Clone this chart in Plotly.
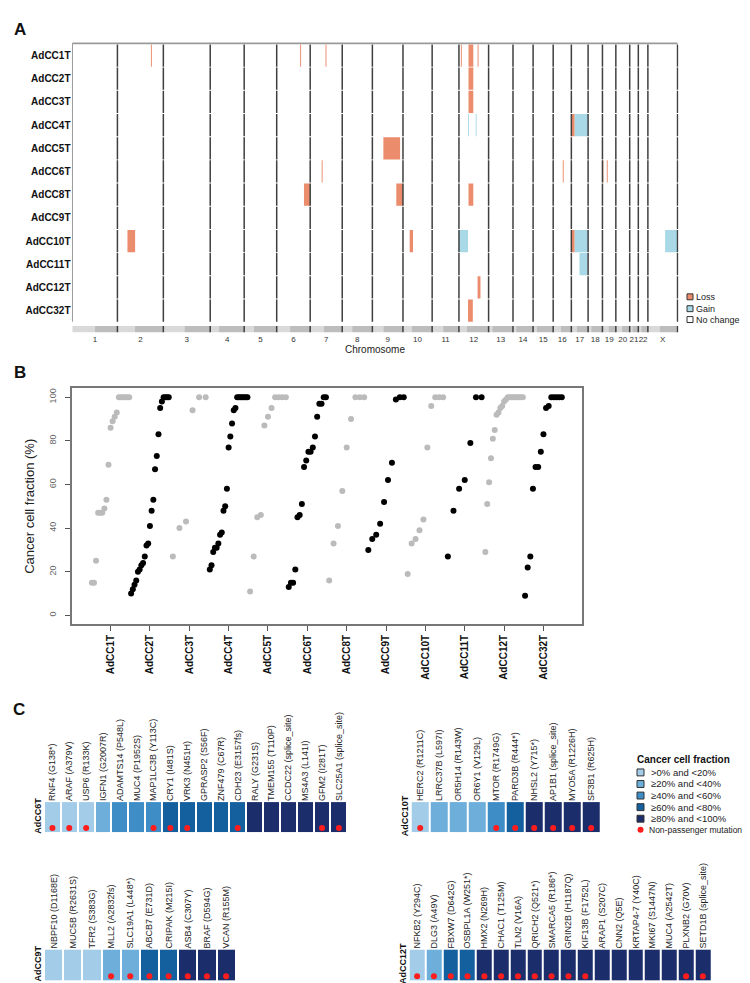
import plotly.graph_objects as go

W, H = 750, 983
FONT = "Liberation Sans, Arial, Helvetica, sans-serif"


def fx(p):
    return p / W


def fy(p):
    return 1 - p / H


# ---------------------------------------------------------------- Panel A data
samples = ["AdCC1T", "AdCC2T", "AdCC3T", "AdCC4T", "AdCC5T", "AdCC6T",
           "AdCC8T", "AdCC9T", "AdCC10T", "AdCC11T", "AdCC12T", "AdCC32T"]
chromosomes = ["1", "2", "3", "4", "5", "6", "7", "8", "9", "10", "11", "12",
               "13", "14", "15", "16", "17", "18", "19", "20", "21", "22", "X"]
# relative display length of each chromosome
chrom_len = [94, 96, 98, 71, 68, 70, 67, 63, 64, 61, 56, 62,
             51, 42, 42, 38, 35, 30, 28, 29, 18, 20, 62]
centromere_frac = [0.50, 0.38, 0.45, 0.26, 0.30, 0.40, 0.42, 0.33, 0.36, 0.30, 0.41, 0.27,
                   0.15, 0.16, 0.18, 0.42, 0.32, 0.22, 0.45, 0.45, 0.30, 0.30, 0.40]

cnv_sample = ["AdCC1T", "AdCC1T", "AdCC1T", "AdCC1T", "AdCC1T", "AdCC1T",
              "AdCC2T", "AdCC3T",
              "AdCC4T", "AdCC4T", "AdCC4T", "AdCC4T",
              "AdCC5T",
              "AdCC6T", "AdCC6T", "AdCC6T", "AdCC6T",
              "AdCC8T", "AdCC8T", "AdCC8T",
              "AdCC10T", "AdCC10T", "AdCC10T", "AdCC10T", "AdCC10T", "AdCC10T",
              "AdCC11T", "AdCC12T", "AdCC32T"]
cnv_chrom = ["2", "6", "7", "12", "12", "12",
             "12", "12",
             "12", "12", "17", "17",
             "9",
             "7", "16", "19", "19",
             "6", "9", "12",
             "2", "10", "12", "17", "17", "X",
             "17", "12", "12"]
cnv_start = [70, 49, 32, 4, 20, 39,
             20, 20,
             19, 35, 0, 7,
             23,
             24, 20, 0, 9,
             57, 50, 20,
             21, 14, 0, 0, 7, 36,
             17, 39, 19]
cnv_end = [72, 51, 34, 6, 30, 41,
           30, 30,
           21, 37, 7, 35,
           58,
           26, 22, 2, 11,
           70, 64, 30,
           37, 21, 19, 7, 35, 62,
           34, 45, 29]
cnv_state = ["Loss", "Loss", "Loss", "Loss", "Loss", "Loss",
             "Loss", "Loss",
             "Gain", "Gain", "Loss", "Gain",
             "Loss",
             "Loss", "Loss", "Loss", "Loss",
             "Loss", "Loss", "Loss",
             "Loss", "Loss", "Gain", "Loss", "Gain", "Gain",
             "Gain", "Loss", "Loss"]
state_colors = {"Loss": "#EB8C6D", "Gain": "#A9D8E7", "No change": "#FFFFFF"}

# ---------------------------------------------------------------- Panel B data
ccf_samples = samples
ccf_AdCC1T = [15, 15, 25, 47, 47, 47, 49, 53, 69, 86, 89, 91, 93, 100, 100, 100, 100, 100, 100]
ccf_AdCC2T = [10, 12, 14, 16, 20, 21, 23, 24, 27, 32, 33, 41, 48, 53, 67, 73, 83, 95, 98,
              100, 100, 100, 100]
ccf_AdCC3T = [27, 40, 43, 94, 100, 100]
ccf_AdCC4T = [21, 23, 29, 31, 31, 33, 37, 38, 48, 50, 58, 77, 82, 88, 94, 95,
              100, 100, 100, 100, 100, 100, 100]
ccf_AdCC5T = [11, 27, 45, 46, 87, 91, 95, 100, 100, 100, 100]
ccf_AdCC6T = [13, 15, 15, 21, 45, 46, 51, 68, 71, 75, 75, 77, 82, 91, 97, 97, 100, 100]
ccf_AdCC8T = [16, 33, 41, 57, 77, 90, 100, 100, 100]
ccf_AdCC9T = [30, 35, 37, 42, 52, 62, 70, 99, 100, 100]
ccf_AdCC10T = [19, 33, 35, 39, 44, 77, 96, 100, 100, 100]
ccf_AdCC11T = [27, 48, 58, 62, 79, 100, 100]
ccf_AdCC12T = [29, 51, 61, 72, 81, 85, 92, 93, 95, 96, 98, 99,
               100, 100, 100, 100, 100, 100, 100, 100, 100]
ccf_AdCC32T = [9, 22, 27, 58, 68, 68, 75, 83, 95, 96, 100, 100, 100, 100, 100]
ccf_values = [ccf_AdCC1T, ccf_AdCC2T, ccf_AdCC3T, ccf_AdCC4T, ccf_AdCC5T, ccf_AdCC6T,
              ccf_AdCC8T, ccf_AdCC9T, ccf_AdCC10T, ccf_AdCC11T, ccf_AdCC12T, ccf_AdCC32T]
ccf_yticks = [0, 20, 40, 60, 80, 100]

# ---------------------------------------------------------------- Panel C data
shade_colors = ["#A3CCE8", "#6DAEDB", "#3F8DC7", "#14609F", "#1B2D6B"]
shade_labels = [">0% and <20%", "\u226520% and <40%", "\u226540% and <60%",
                "\u226560% and <80%", "\u226580% and <100%"]

genes_AdCC6T = ["RNF4 (G138*)", "ARAF (A379V)", "USP6 (R133K)", "IGFN1 (G2007R)",
                "ADAMTS14 (P548L)", "MUC4 (P1952S)", "MAP1LC3B (Y113C)", "CRY1 (I481S)",
                "VRK3 (N451H)", "GPRASP2 (S56F)", "ZNF479 (C67R)", "CDH23 (E3157fs)",
                "RALY (G231S)", "TMEM155 (T110P)", "CCDC22 (splice_site)", "MS4A3 (L141I)",
                "GFM2 (I281T)", "SLC25A1 (splice_site)"]
shade_AdCC6T = [0, 0, 0, 1, 2, 2, 2, 3, 3, 3, 3, 3, 4, 4, 4, 4, 4, 4]
driver_AdCC6T = [1, 1, 1, 0, 0, 0, 1, 1, 1, 0, 0, 1, 0, 0, 0, 0, 1, 1]

genes_AdCC10T = ["HERC2 (R1211C)", "LRRC37B (L597I)", "OR5H14 (R143W)", "OR6Y1 (V129L)",
                 "MTOR (R1749G)", "PARD3B (R444*)", "NHSL2 (Y715*)", "AP1B1 (splice_site)",
                 "MYO5A (R1226H)", "SF3B1 (R625H)"]
shade_AdCC10T = [0, 1, 1, 1, 2, 3, 4, 4, 4, 4]
driver_AdCC10T = [1, 0, 0, 0, 1, 1, 1, 1, 1, 1]

genes_AdCC9T = ["NBPF10 (D1168E)", "MUC5B (R2631S)", "TFR2 (S383G)", "MLL2 (A2832fs)",
                "SLC19A1 (L448*)", "ABCB7 (E731D)", "CRIPAK (M215I)", "ASB4 (C307Y)",
                "BRAF (D594G)", "VCAN (R155M)"]
shade_AdCC9T = [0, 0, 0, 1, 1, 3, 3, 4, 4, 4]
driver_AdCC9T = [0, 0, 0, 1, 1, 1, 1, 1, 1, 1]

genes_AdCC12T = ["NFKB2 (Y294C)", "DLG3 (A49V)", "FBXW7 (D642G)", "OSBPL1A (W251*)",
                 "HMX2 (N269H)", "CHAC1 (T125M)", "TLN2 (V16A)", "QRICH2 (Q521*)",
                 "SMARCA5 (R186*)", "GRIN2B (H1187Q)", "KIF13B (F1752L)", "ARAP1 (S207C)",
                 "CNN2 (Q5E)", "KRTAP4-7 (Y40C)", "MKI67 (S1447N)", "MUC4 (A2542T)",
                 "PLXNB2 (G70V)", "SETD1B (splice_site)"]
shade_AdCC12T = [0, 1, 3, 3, 4, 4, 4, 4, 4, 4, 4, 4, 4, 4, 4, 4, 4, 4]
driver_AdCC12T = [1, 1, 1, 1, 1, 1, 1, 1, 1, 1, 1, 0, 0, 0, 0, 0, 1, 1]

# ============================================================ figure
fig = go.Figure()
shapes = []
annotations = []

# ---------------------------------------------------------------- Panel A
offsets = [0]
for L in chrom_len:
    offsets.append(offsets[-1] + L)
total = offsets[-1]
chrom_off = dict(zip(chromosomes, offsets[:-1]))
row_of = {s: i for i, s in enumerate(samples)}

A_row0_px, A_pitch, A_top_px, A_bot_px = 41.0, 23.45, 27.9, 322.0
A_half = 0.48
bar_lo, bar_hi = 11.66, 11.93
top_line_y = (A_top_px + 0.6 - A_row0_px) / A_pitch

for s, c, a, b, st in zip(cnv_sample, cnv_chrom, cnv_start, cnv_end, cnv_state):
    r = row_of[s]
    shapes.append(dict(type="rect", xref="x", yref="y",
                       x0=chrom_off[c] + a, x1=chrom_off[c] + b,
                       y0=r - A_half, y1=r + A_half,
                       fillcolor=state_colors[st], line=dict(width=0), layer="below"))

# chromosome ideogram bar
for c, L, f in zip(chromosomes, chrom_len, centromere_frac):
    o = chrom_off[c]
    shapes.append(dict(type="rect", xref="x", yref="y", x0=o, x1=o + L * f,
                       y0=bar_lo, y1=bar_hi, fillcolor="#D9D9D9", line=dict(width=0),
                       layer="below"))
    shapes.append(dict(type="rect", xref="x", yref="y", x0=o + L * f, x1=o + L,
                       y0=bar_lo, y1=bar_hi, fillcolor="#BDBDBD", line=dict(width=0),
                       layer="below"))

# chromosome boundaries (drawn per row)
bx, by = [], []
for bnd in offsets[1:]:
    for r in range(len(samples)):
        bx += [bnd, bnd, None]
        by += [r - A_half, r + A_half, None]
    bx += [bnd, bnd, None]
    by += [bar_lo, bar_hi, None]
fig.add_trace(go.Scatter(x=bx, y=by, mode="lines", line=dict(color="#3F3F3F", width=1.5),
                         hoverinfo="skip", xaxis="x", yaxis="y"))
fig.add_trace(go.Scatter(x=[0, 0], y=[top_line_y, len(samples) - 1 + A_half], mode="lines",
                         line=dict(color="#9A9A9A", width=1), hoverinfo="skip",
                         xaxis="x", yaxis="y"))
fig.add_trace(go.Scatter(x=[0, total], y=[top_line_y, top_line_y], mode="lines",
                         line=dict(color="#9A9A9A", width=2.2), hoverinfo="skip",
                         xaxis="x", yaxis="y"))

chrom_centers = [o + L / 2 for o, L in zip(offsets[:-1], chrom_len)]

# ---------------------------------------------------------------- Panel B
B_colors = ["#BBBBBB", "#000000"]
for i, (s, vals) in enumerate(zip(ccf_samples, ccf_values)):
    n = len(vals)
    xs = [i + 1 - 0.5 + (j + 0.5) / n for j in range(n)]
    fig.add_trace(go.Scatter(x=xs, y=vals, mode="markers",
                             marker=dict(color=B_colors[i % 2], size=6, line=dict(width=0)),
                             hoverinfo="skip", xaxis="x2", yaxis="y2"))

# ---------------------------------------------------------------- Panel C
cscale = []
for k, col in enumerate(shade_colors):
    cscale += [[k / 5, col], [(k + 1) / 5, col]]

heat_blocks = [
    ("AdCC6T", genes_AdCC6T, shade_AdCC6T, driver_AdCC6T, "x3", "y3"),
    ("AdCC10T", genes_AdCC10T, shade_AdCC10T, driver_AdCC10T, "x4", "y4"),
    ("AdCC9T", genes_AdCC9T, shade_AdCC9T, driver_AdCC9T, "x5", "y5"),
    ("AdCC12T", genes_AdCC12T, shade_AdCC12T, driver_AdCC12T, "x6", "y6"),
]
for name, genes, shade, drv, xa, ya in heat_blocks:
    n = len(genes)
    fig.add_trace(go.Heatmap(z=[shade], x=list(range(n)), y=[0], zmin=-0.5, zmax=4.5,
                             colorscale=cscale, showscale=False, xgap=2, ygap=0,
                             hoverinfo="skip", xaxis=xa, yaxis=ya))
    dx = [j for j in range(n) if drv[j]]
    fig.add_trace(go.Scatter(x=dx, y=[-0.355] * len(dx), mode="markers",
                             marker=dict(color="#FF1C1C", size=6, line=dict(width=0)),
                             hoverinfo="skip", xaxis=xa, yaxis=ya))

# ============================================================ layout
common = dict(showgrid=False, zeroline=False)

layout = dict(
    width=W, height=H, margin=dict(l=0, r=0, t=0, b=0),
    paper_bgcolor="white", plot_bgcolor="white", showlegend=False,
    font=dict(family=FONT, color="#222222"),
)

# Panel A axes
layout["xaxis"] = dict(domain=[fx(63.5), fx(670.5)], range=[-2, total + 2], anchor="y",
                       tickmode="array", tickvals=chrom_centers, ticktext=chromosomes,
                       ticks="", tickangle=0, tickfont=dict(size=8, color="#333333"),
                       showline=False,
                       title=dict(text="Chromosome", font=dict(size=10, color="#222222"),
                                  standoff=1),
                       fixedrange=True, **common)
layout["yaxis"] = dict(domain=[fy(A_bot_px), fy(A_top_px)],
                       range=[(A_bot_px - A_row0_px) / A_pitch, (A_top_px - A_row0_px) / A_pitch],
                       anchor="x", tickmode="array", tickvals=list(range(len(samples))),
                       ticktext=["<b>%s</b>" % s for s in samples], ticks="",
                       tickfont=dict(size=10, color="#111111"), showline=False,
                       fixedrange=True, **common)

# Panel B axes
layout["xaxis2"] = dict(domain=[fx(64), fx(574)], range=[0.02, 12.98], anchor="y2",
                        tickmode="array", tickvals=list(range(1, 13)),
                        ticktext=["<b>%s</b>" % s for s in ccf_samples], tickangle=-90,
                        ticks="outside", ticklen=5, tickcolor="#555555", tickwidth=1,
                        tickfont=dict(size=10, color="#111111"),
                        showline=True, mirror=True, linecolor="#777777", linewidth=1.5,
                        **common)
layout["yaxis2"] = dict(domain=[fy(616), fy(377.7)], range=[-4, 104], anchor="x2",
                        tickmode="array", tickvals=ccf_yticks,
                        ticktext=[str(v) for v in ccf_yticks], tickangle=-90,
                        ticks="outside", ticklen=5, tickcolor="#555555", tickwidth=1,
                        ticklabelstandoff=6,
                        tickfont=dict(size=9, color="#666666"),
                        showline=True, mirror=True, linecolor="#777777", linewidth=1.5,
                        title=dict(text="Cancer cell fraction (%)",
                                   font=dict(size=13, color="#222222"), standoff=10),
                        **common)

# Panel C axes
C_dom = {
    "x3": (36, 339.3), "y3": (796, 826.7),
    "x4": (402.7, 592.7), "y4": (796, 826.7),
    "x5": (36, 227.7), "y5": (945, 976.7),
    "x6": (400.7, 703.3), "y6": (945, 976.7),
}
for name, genes, shade, drv, xa, ya in heat_blocks:
    xk = "xaxis" + xa[1:]
    yk = "yaxis" + ya[1:]
    x0, x1 = C_dom[xa]
    y0, y1 = C_dom[ya]
    layout[xk] = dict(domain=[fx(x0), fx(x1)], range=[-0.5, len(genes) - 0.5], anchor=ya,
                      side="top", tickmode="array", tickvals=list(range(len(genes))),
                      ticktext=genes, tickangle=-90, ticks="",
                      tickfont=dict(size=9, color="#222222"), showline=False, **common)
    layout[yk] = dict(domain=[fy(y1), fy(y0)], range=[-0.5, 0.5], anchor=xa,
                      tickmode="array", tickvals=[0], ticktext=["<b>%s</b>" % name],
                      tickangle=-90, ticks="", tickfont=dict(size=9, color="#111111"),
                      showline=False, **common)

# panel letters
for letter, (px_, py_) in zip(["A", "B", "C"], [(12, 15), (12, 362), (11, 702)]):
    annotations.append(dict(text="<b>%s</b>" % letter, x=fx(px_), y=fy(py_), xref="paper",
                            yref="paper", showarrow=False, xanchor="center", yanchor="middle",
                            font=dict(size=17, color="#111111")))

# Panel A legend
for k, (lab, ypx) in enumerate(zip(["Loss", "Gain", "No change"], [285, 297, 308])):
    shapes.append(dict(type="rect", xref="paper", yref="paper",
                       x0=fx(679), x1=fx(685), y0=fy(ypx + 3), y1=fy(ypx - 3),
                       fillcolor=state_colors[lab], line=dict(color="#333333", width=1)))
    annotations.append(dict(text=lab, x=fx(686), y=fy(ypx), xref="paper", yref="paper",
                            showarrow=False, xanchor="left", yanchor="middle",
                            font=dict(size=9, color="#222222")))

# Panel C legend
annotations.append(dict(text="<b>Cancer cell fraction</b>", x=fx(627), y=fy(753),
                        xref="paper", yref="paper", showarrow=False, xanchor="left",
                        yanchor="middle", font=dict(size=10, color="#111111")))
for k, (lab, col) in enumerate(zip(shade_labels, shade_colors)):
    ypx = 766 + k * 11.7
    shapes.append(dict(type="rect", xref="paper", yref="paper",
                       x0=fx(629), x1=fx(636), y0=fy(ypx + 3.5), y1=fy(ypx - 3.5),
                       fillcolor=col, line=dict(color="#333333", width=1)))
    annotations.append(dict(text=lab, x=fx(641), y=fy(ypx), xref="paper", yref="paper",
                            showarrow=False, xanchor="left", yanchor="middle",
                            font=dict(size=9.5, color="#222222")))
shapes.append(dict(type="circle", xref="paper", yref="paper",
                   x0=fx(629.5), x1=fx(635.5), y0=fy(827), y1=fy(821),
                   fillcolor="#FF1C1C", line=dict(width=0)))
annotations.append(dict(text="Non-passenger mutation", x=fx(639), y=fy(824),
                        xref="paper", yref="paper", showarrow=False, xanchor="left",
                        yanchor="middle", font=dict(size=8.5, color="#222222")))

layout["shapes"] = shapes
layout["annotations"] = annotations
fig.update_layout(**layout)

fig.write_html("out.html")
